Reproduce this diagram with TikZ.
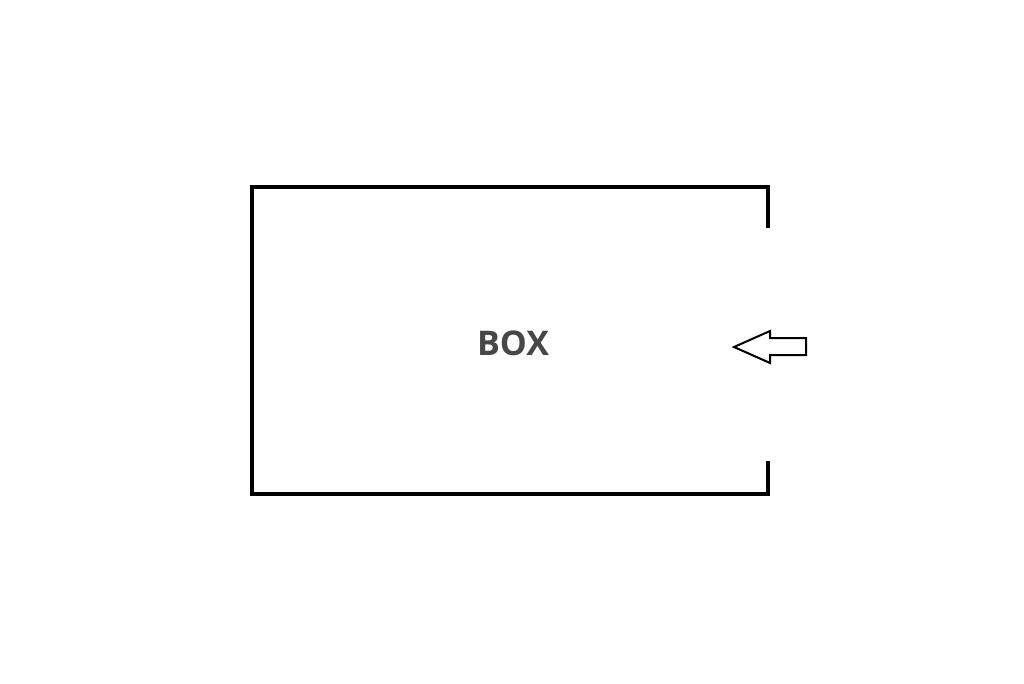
\documentclass[tikz,border=0pt]{standalone}
\usepackage{fontspec}
\setmainfont{Open Sans}
\begin{document}
\begin{tikzpicture}[x=1pt,y=-1pt,
  wall/.style={line width=4.5pt, line cap=rect, line join=miter},
  label/.style={font=\bfseries\fontsize{34}{40}\selectfont, text=black!72},
  arrowshape/.style={draw=black, line width=2pt, fill=white, line join=miter}]
\useasboundingbox (0,0) rectangle (1024,683);
\coordinate (ot) at (768,226);
\coordinate (tl) at (252,187);
\coordinate (tr) at (768,187);
\coordinate (bl) at (252,494);
\coordinate (br) at (768,494);
\coordinate (ob) at (768,463);
\draw[wall] (ot) -- (tr) -- (tl) -- (bl) -- (br) -- (ob);
\node[label] (box) at (513,343) {BOX};
\draw[arrowshape] (734,347) -- (770,331) -- (770,338) -- (806,338) -- (806,355) -- (770,355) -- (770,363) -- cycle;
\end{tikzpicture}
\end{document}
